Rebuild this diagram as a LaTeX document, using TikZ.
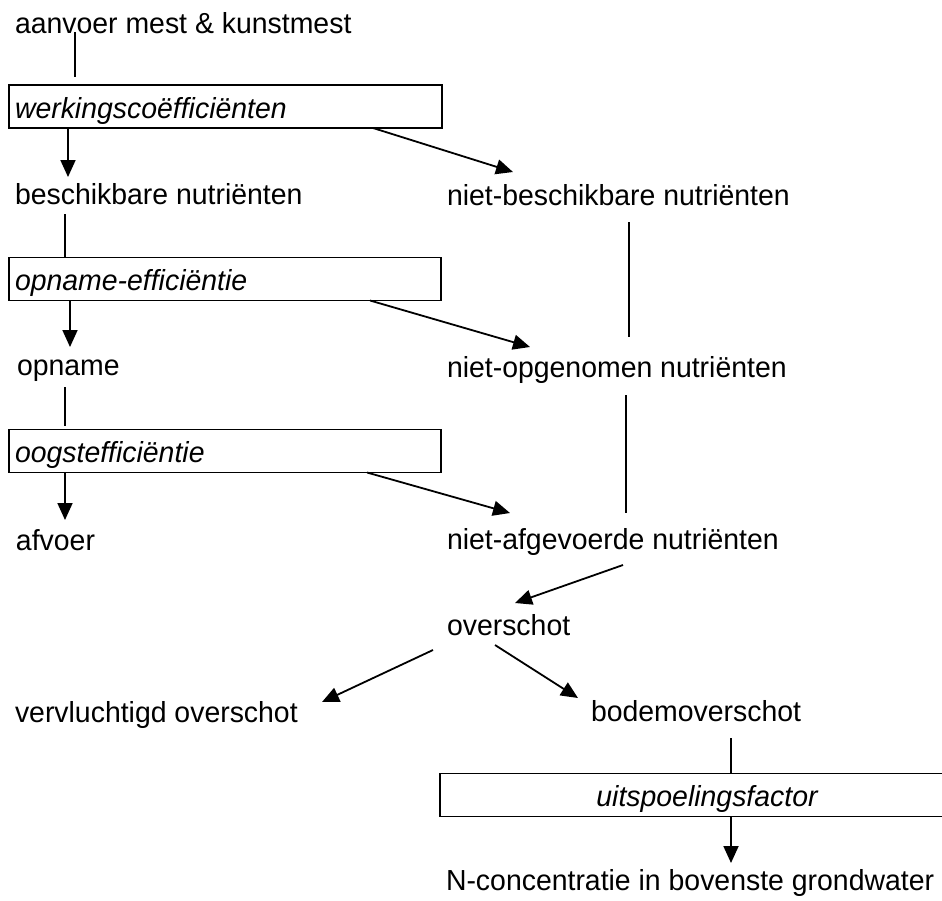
\documentclass[tikz,border=0pt]{standalone}
\usepackage{fontspec}
\setmainfont{Liberation Sans}[FakeStretch=0.98]
\usetikzlibrary{arrows.meta,calc}
\begin{document}
\begin{tikzpicture}[x=1pt,y=-1pt,outer sep=0pt,
  txt/.style={anchor=base west,inner sep=0pt,outer sep=0pt,font=\fontsize{29}{34}\selectfont},
  boxnode/.style={draw,line width=1.8pt,minimum height=43pt,inner xsep=6pt,inner ysep=0pt,outer sep=0pt,
    font=\fontsize{29}{34}\selectfont\itshape,text height=24pt,text depth=1pt},
  conn/.style={line width=1.8pt},
  arr/.style={conn,-{Triangle[length=17pt,width=15pt]}}]
\useasboundingbox (0,0) rectangle (942,900);
\clip (0,0) rectangle (942,900);
\fill[white] (0,0) rectangle (942,900);

% text nodes
\node[txt] (aan)   at (15,33)  {aanvoer mest \& kunstmest};
\node[txt] (bes)   at (15,204) {beschikbare nutriënten};
\node[txt] (nbes)  at (447,205) {niet-beschikbare nutriënten};
\node[txt] (opn)   at (17,375) {opname};
\node[txt] (nopg)  at (447,377) {niet-opgenomen nutriënten};
\node[txt] (afv)   at (16,550) {afvoer};
\node[txt] (nafg)  at (447,549) {niet-afgevoerde nutriënten};
\node[txt] (ovs)   at (447,635) {overschot};
\node[txt] (vvl)   at (15,722) {vervluchtigd overschot};
\node[txt] (bod)   at (591,721) {bodemoverschot};
\node[txt] (nconc) at (446,890) {N-concentratie in bovenste grondwater};

% boxes
\node[boxnode,text width=421pt,align=left] (box1) at (225.5,106.5) {werkingscoëfficiënten};
\node[boxnode,text width=420pt,align=left] (box2) at (225,279) {opname-efficiëntie};
\node[boxnode,text width=420pt,align=left] (box3) at (225,451) {oogstefficiëntie};
\node[boxnode,text width=522pt,align=center] (box4) at (707,795) {uitspoelingsfactor};

% connectors
\draw[conn] ($(aan.base west)+(60,-1)$) -- ($(box1.north west)+(66,-8)$);
\draw[arr]  ($(box1.south west)+(59,0)$) -- ($(bes.base west)+(53,-27)$);
\draw[arr]  ($(box1.south west)+(364,0)$) -- ($(nbes.base west)+(66,-33)$);

\draw[conn] ($(bes.base west)+(50,10)$) -- ($(box2.north west)+(56,0)$);
\draw[arr]  ($(box2.south west)+(61,0)$) -- ($(opn.base west)+(53,-28)$);
\draw[arr]  ($(box2.south west)+(361,0)$) -- ($(nopg.base west)+(83,-30)$);
\draw[conn] ($(nbes.base west)+(182,17)$) -- ($(nopg.base west)+(182,-40)$);

\draw[conn] ($(opn.base west)+(48,12)$) -- ($(box3.north west)+(56,-4)$);
\draw[arr]  ($(box3.south west)+(56,0)$) -- ($(afv.base west)+(49,-30)$);
\draw[arr]  ($(box3.south west)+(358,0)$) -- ($(nafg.base west)+(63,-36)$);
\draw[conn] ($(nopg.base west)+(179,18)$) -- ($(nafg.base west)+(179,-36)$);

\draw[arr]  ($(nafg.base west)+(176,16)$) -- ($(ovs.base west)+(68,-32)$);
\draw[arr]  ($(ovs.base west)+(-14,15)$) -- ($(vvl.base west)+(307,-20)$);
\draw[arr]  ($(ovs.base west)+(48,10)$) -- ($(bod.base west)+(-13,-23)$);

\draw[conn] ($(bod.base west)+(140,17)$) -- ($(box4.north west)+(291,0)$);
\draw[arr]  ($(box4.south west)+(291,0)$) -- ($(nconc.base west)+(285,-27)$);
\end{tikzpicture}
\end{document}
